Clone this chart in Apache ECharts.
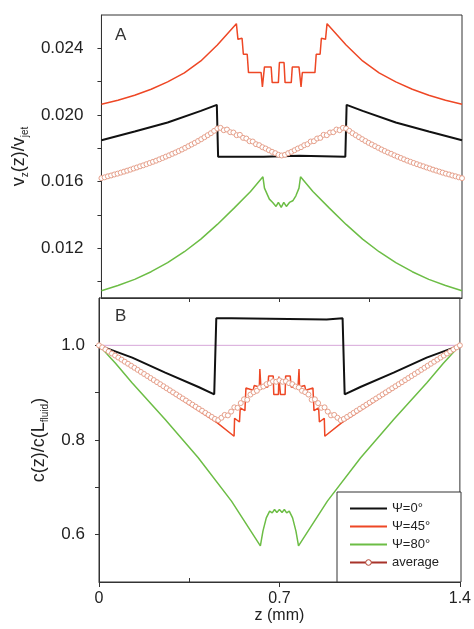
<!DOCTYPE html>
<html>
<head>
<meta charset="utf-8">
<script src="https://cdn.jsdelivr.net/npm/echarts@6/dist/echarts.min.js"></script>
<style>
  html, body { margin: 0; padding: 0; background: #fff; }
  #chart { width: 474px; height: 629px; }
</style>
</head>
<body>
<div id="chart"></div>
<script>
  // 数据
  const names = ['Ψ=0°', 'Ψ=45°', 'Ψ=80°', 'average']

  // A: v_z(z)/v_jet
  const blackTop = [[0, 0.01848], [0.129, 0.0190], [0.257, 0.01954], [0.386, 0.02024], [0.448, 0.0206], [0.453, 0.01748],
    [0.63, 0.01748], [0.632, 0.01754], [0.768, 0.01754], [0.77, 0.01748], [0.947, 0.01748], [0.952, 0.0206],
    [1.014, 0.02024], [1.143, 0.01954], [1.271, 0.0190], [1.4, 0.01848]]
  const redTop = [[0, 0.02064], [0.064, 0.02088], [0.129, 0.02118], [0.193, 0.02154], [0.257, 0.02198], [0.322, 0.02252],
    [0.386, 0.02324], [0.45, 0.0242], [0.524, 0.02548], [0.530, 0.02454], [0.546, 0.0246], [0.551, 0.02364],
    [0.566, 0.02364], [0.571, 0.02254], [0.620, 0.02254], [0.625, 0.02168], [0.633, 0.02288], [0.659, 0.02288],
    [0.663, 0.02194], [0.687, 0.02194], [0.691, 0.02314], [0.709, 0.02314], [0.713, 0.02194], [0.737, 0.02194],
    [0.741, 0.02288], [0.767, 0.02288], [0.775, 0.02168], [0.780, 0.02254], [0.829, 0.02254], [0.834, 0.02364],
    [0.849, 0.02364], [0.854, 0.0246], [0.870, 0.02454], [0.876, 0.02548], [0.95, 0.0242], [1.014, 0.02324],
    [1.078, 0.02252], [1.143, 0.02198], [1.207, 0.02154], [1.271, 0.02118], [1.336, 0.02088], [1.4, 0.02064]]
  const greenTop = [[0, 0.00944], [0.064, 0.00975], [0.129, 0.01012], [0.193, 0.01058], [0.257, 0.01112], [0.322, 0.01178],
    [0.386, 0.01254], [0.45, 0.01342], [0.515, 0.0144], [0.579, 0.0154], [0.627, 0.01628], [0.633, 0.0156],
    [0.652, 0.01494], [0.665, 0.01474], [0.678, 0.0145], [0.687, 0.01474], [0.698, 0.01444], [0.708, 0.01474],
    [0.718, 0.0145], [0.730, 0.01474], [0.743, 0.01484], [0.755, 0.01514], [0.767, 0.0156], [0.773, 0.01628],
    [0.821, 0.0154], [0.885, 0.0144], [0.95, 0.01342], [1.014, 0.01254], [1.078, 0.01178], [1.143, 0.01112],
    [1.207, 0.01058], [1.271, 0.01012], [1.336, 0.00975], [1.4, 0.00944]]

  // B: c(z)/c(L_fluid)
  const blackBottom = [[0, 1.0], [0.129, 0.974], [0.257, 0.9423], [0.386, 0.912], [0.447, 0.8965], [0.455, 1.0572],
    [0.514, 1.0572], [0.517, 1.0548], [0.883, 1.0548], [0.886, 1.0572], [0.945, 1.0572], [0.953, 0.8965],
    [1.014, 0.912], [1.143, 0.9423], [1.271, 0.974], [1.4, 1.0]]
  const redBottom = [[0, 1.0], [0.2, 0.928], [0.459, 0.836], [0.524, 0.808], [0.526, 0.846], [0.545, 0.838], [0.548, 0.868],
    [0.566, 0.862], [0.570, 0.910], [0.598, 0.905], [0.602, 0.915], [0.622, 0.912], [0.624, 0.950], [0.628, 0.912],
    [0.655, 0.912], [0.658, 0.935], [0.676, 0.935], [0.678, 0.896], [0.696, 0.896], [0.698, 0.934], [0.702, 0.934],
    [0.704, 0.896], [0.722, 0.896], [0.724, 0.935], [0.742, 0.935], [0.745, 0.912], [0.772, 0.912], [0.776, 0.950],
    [0.778, 0.912], [0.798, 0.915], [0.802, 0.905], [0.830, 0.910], [0.834, 0.862], [0.852, 0.868], [0.855, 0.838],
    [0.874, 0.846], [0.876, 0.808], [0.941, 0.836], [1.2, 0.928], [1.4, 1.0]]
  const greenBottom = [[0, 1.0], [0.064, 0.962], [0.128, 0.921], [0.256, 0.8436], [0.385, 0.7625], [0.514, 0.6708],
    [0.626, 0.5765], [0.636, 0.6074], [0.649, 0.6356], [0.662, 0.6497], [0.672, 0.646], [0.681, 0.6532], [0.690, 0.647],
    [0.700, 0.653], [0.710, 0.647], [0.719, 0.6532], [0.728, 0.646], [0.738, 0.6497], [0.751, 0.6356], [0.764, 0.6074],
    [0.774, 0.5765], [0.886, 0.6708], [1.015, 0.7625], [1.144, 0.8436], [1.272, 0.921], [1.336, 0.962], [1.4, 1.0]]

  // average（圆圈）
  const zAvg = [0, 0.0125, 0.025, 0.0375, 0.05, 0.0625, 0.075, 0.0875, 0.1, 0.1125,
    0.125, 0.1375, 0.15, 0.1625, 0.175, 0.1875, 0.2, 0.2125, 0.225, 0.2375,
    0.25, 0.2625, 0.275, 0.2875, 0.3, 0.3125, 0.325, 0.3375, 0.35, 0.3625,
    0.375, 0.3875, 0.4, 0.4125, 0.425, 0.4375, 0.45, 0.4625, 0.475, 0.4875,
    0.5, 0.5125, 0.525, 0.5375, 0.55, 0.5625, 0.575, 0.5875, 0.6, 0.6125,
    0.625, 0.6375, 0.65, 0.6625, 0.675, 0.6875, 0.7, 0.7125, 0.725, 0.7375,
    0.75, 0.7625, 0.775, 0.7875, 0.8, 0.8125, 0.825, 0.8375, 0.85, 0.8625,
    0.875, 0.8875, 0.9, 0.9125, 0.925, 0.9375, 0.95, 0.9625, 0.975, 0.9875,
    1.0, 1.0125, 1.025, 1.0375, 1.05, 1.0625, 1.075, 1.0875, 1.1, 1.1125,
    1.125, 1.1375, 1.15, 1.1625, 1.175, 1.1875, 1.2, 1.2125, 1.225, 1.2375,
    1.25, 1.2625, 1.275, 1.2875, 1.3, 1.3125, 1.325, 1.3375, 1.35, 1.3625,
    1.375, 1.3875, 1.4]
  const avgTop = [0.0162, 0.01625, 0.01631, 0.01636, 0.01642, 0.01647, 0.01653, 0.01659, 0.01665, 0.01671,
    0.01678, 0.01684, 0.01691, 0.01697, 0.01704, 0.01711, 0.01718, 0.01725, 0.01733, 0.01741,
    0.01749, 0.01757, 0.01766, 0.01774, 0.01783, 0.01792, 0.01802, 0.01812, 0.01822, 0.01832,
    0.01843, 0.01854, 0.01866, 0.01878, 0.0189, 0.01904, 0.01918, 0.01922, 0.01908, 0.01912,
    0.01896, 0.01894, 0.01878, 0.0188, 0.01862, 0.01858, 0.01842, 0.0184, 0.01824, 0.01818,
    0.01806, 0.01798, 0.01788, 0.01778, 0.0177, 0.0176, 0.01756,
    0.0176, 0.0177, 0.01778, 0.01788, 0.01798, 0.01806, 0.01818, 0.01824, 0.0184, 0.01842,
    0.01858, 0.01862, 0.0188, 0.01878, 0.01894, 0.01896, 0.01912, 0.01908, 0.01922, 0.01918,
    0.01904, 0.0189, 0.01878, 0.01866, 0.01854, 0.01843, 0.01832, 0.01822, 0.01812, 0.01802,
    0.01792, 0.01783, 0.01774, 0.01766, 0.01757, 0.01749, 0.01741, 0.01733, 0.01725, 0.01718,
    0.01711, 0.01704, 0.01697, 0.01691, 0.01684, 0.01678, 0.01671, 0.01665, 0.01659, 0.01653,
    0.01647, 0.01642, 0.01636, 0.01631, 0.01625, 0.0162]
  const avgBottom = [1.0, 0.9957, 0.9914, 0.987, 0.9827, 0.9784, 0.9741, 0.9698, 0.9654, 0.9611,
    0.9568, 0.9525, 0.9482, 0.9438, 0.9395, 0.9352, 0.9309, 0.9266, 0.9222, 0.9179,
    0.9136, 0.9093, 0.905, 0.9006, 0.8963, 0.892, 0.8877, 0.8834, 0.879, 0.8747,
    0.8704, 0.8661, 0.8618, 0.8574, 0.8531, 0.8488, 0.8445, 0.842, 0.847, 0.853,
    0.852, 0.86, 0.869, 0.868, 0.878, 0.886, 0.885, 0.896, 0.901, 0.904,
    0.911, 0.913, 0.918, 0.92, 0.924, 0.923, 0.926,
    0.923, 0.924, 0.92, 0.918, 0.913, 0.911, 0.904, 0.901, 0.896, 0.885,
    0.886, 0.878, 0.868, 0.869, 0.86, 0.852, 0.853, 0.847, 0.842, 0.8445,
    0.8488, 0.8531, 0.8574, 0.8618, 0.8661, 0.8704, 0.8747, 0.879, 0.8834, 0.8877,
    0.892, 0.8963, 0.9006, 0.905, 0.9093, 0.9136, 0.9179, 0.9222, 0.9266, 0.9309,
    0.9352, 0.9395, 0.9438, 0.9482, 0.9525, 0.9568, 0.9611, 0.9654, 0.9698, 0.9741,
    0.9784, 0.9827, 0.987, 0.9914, 0.9957, 1.0]

  const refLine = [[0, 1.0], [1.4, 1.0]]

  // 刻度
  const xTicks = [0, 0.7, 1.4]
  const xMinorTicks = [0.35, 1.05]
  const yTopLabels = [0.012, 0.016, 0.020, 0.024]
  const yTopTicks = [0.010, 0.012, 0.014, 0.016, 0.018, 0.020, 0.022, 0.024]
  const yBottomLabels = [0.6, 0.8, 1.0]
  const yBottomTicks = [0.6, 0.7, 0.8, 0.9, 1.0]

  const colors = ['#111111', '#ee4725', '#6cbd45', '#e6a08b']
  const font = 'Liberation Sans, Arial, Helvetica, sans-serif'
  const axisColor = '#333'

  const chart = echarts.init(document.getElementById('chart'))

  const lineSeries = (name, data, x, y, color, width) => ({
    name, type: 'line', data, xAxisIndex: x, yAxisIndex: y,
    symbol: 'none', lineStyle: { color, width }, itemStyle: { color }, z: 2
  })
  const avgSeries = (vals, x, y) => ({
    name: 'average', type: 'line', xAxisIndex: x, yAxisIndex: y,
    data: zAvg.map((z, i) => [z, vals[i]]),
    symbol: 'circle', symbolSize: 5, showAllSymbol: true,
    lineStyle: { color: colors[3], width: 1, opacity: 0 },
    itemStyle: { color: '#fff', borderColor: colors[3], borderWidth: 1 },
    z: 3
  })

  const option = {
    animation: false,
    backgroundColor: '#fff',
    textStyle: { fontFamily: font },
    grid: [
      { left: 99, right: 12, top: 15, height: 283, show: true, borderColor: axisColor, borderWidth: 1 },
      { left: 99, right: 12, top: 298, bottom: 47, show: true, borderColor: axisColor, borderWidth: 1 }
    ],
    xAxis: [
      { gridIndex: 0, type: 'value', min: 0, max: 1.4, axisLine: { lineStyle: { color: axisColor } },
        axisTick: { show: false }, axisLabel: { show: false }, splitLine: { show: false } },
      { gridIndex: 1, type: 'value', min: 0, max: 1.4, position: 'bottom',
        axisLine: { lineStyle: { color: axisColor } },
        axisTick: { customValues: xTicks, length: 5, lineStyle: { color: axisColor } },
        axisLabel: { customValues: xTicks, fontSize: 16, color: '#222', margin: 9,
          formatter: (v) => (v === 0 ? '0' : String(v)) },
        splitLine: { show: false },
        name: 'z (mm)', nameLocation: 'middle', nameGap: 24,
        nameTextStyle: { fontSize: 16, color: '#222' } },
      { gridIndex: 1, type: 'value', min: 0, max: 1.4, position: 'top',
        axisLine: { show: false },
        axisTick: { customValues: [0.35, 0.7, 1.05], inside: true, length: 4, lineStyle: { color: axisColor } },
        axisLabel: { show: false }, splitLine: { show: false } },
      { gridIndex: 1, type: 'value', min: 0, max: 1.4, position: 'bottom',
        axisLine: { show: false },
        axisTick: { customValues: xMinorTicks, inside: true, length: 4, lineStyle: { color: axisColor } },
        axisLabel: { show: false }, splitLine: { show: false } }
    ],
    yAxis: [
      { gridIndex: 0, type: 'value', min: 0.009, max: 0.026,
        axisLine: { show: true, lineStyle: { color: axisColor } },
        axisTick: { customValues: yTopTicks, length: 4, lineStyle: { color: axisColor } },
        axisLabel: { customValues: yTopLabels, fontSize: 17, color: '#222', margin: 18,
          formatter: (v) => v.toFixed(3) },
        splitLine: { show: false },
        name: 'v{s|z}(z)/v{s|jet}', nameLocation: 'middle', nameRotate: 90, nameGap: 70,
        nameTextStyle: { fontSize: 18, color: '#222', lineHeight: 22,
          rich: { s: { fontSize: 10, lineHeight: 22, verticalAlign: 'bottom', color: '#222' } } } },
      { gridIndex: 1, type: 'value', min: 0.5, max: 1.1,
        axisLine: { show: true, lineStyle: { color: axisColor } },
        axisTick: { customValues: yBottomTicks, length: 4, lineStyle: { color: axisColor } },
        axisLabel: { customValues: yBottomLabels, fontSize: 17, color: '#222', margin: 14,
          formatter: (v) => v.toFixed(1) },
        splitLine: { show: false },
        name: 'c(z)/c(L{s|fluid})', nameLocation: 'middle', nameRotate: 90, nameGap: 47,
        nameTextStyle: { fontSize: 18, color: '#222', lineHeight: 22,
          rich: { s: { fontSize: 10, lineHeight: 22, verticalAlign: 'bottom', color: '#222' } } } }
    ],
    legend: {
      orient: 'vertical', left: 349, top: 502, padding: 0,
      itemWidth: 37, itemHeight: 7, itemGap: 5, z: 10,
      textStyle: { fontSize: 13, color: '#222' },
      data: [
        { name: names[0], itemStyle: { opacity: 0 } },
        { name: names[1], itemStyle: { opacity: 0 } },
        { name: names[2], itemStyle: { opacity: 0 } },
        { name: names[3], itemStyle: { color: '#fff', borderColor: '#b0402e', borderWidth: 1 },
          lineStyle: { color: '#a8332a', width: 2, opacity: 1 } }
      ]
    },
    graphic: [
      { type: 'rect', z: 5, shape: { x: 337, y: 492, width: 124, height: 90 },
        style: { fill: '#fff', stroke: axisColor, lineWidth: 1 } },
      { type: 'text', left: 115, top: 27, z: 5, style: { text: 'A', fontSize: 17, fill: '#333', fontFamily: font } },
      { type: 'text', left: 115, top: 308, z: 5, style: { text: 'B', fontSize: 17, fill: '#333', fontFamily: font } }
    ],
    series: [
      lineSeries(names[0], blackTop, 0, 0, colors[0], 2),
      lineSeries(names[1], redTop, 0, 0, colors[1], 1.5),
      lineSeries(names[2], greenTop, 0, 0, colors[2], 1.5),
      avgSeries(avgTop, 0, 0),
      { name: 'ref', type: 'line', data: refLine, xAxisIndex: 1, yAxisIndex: 1, symbol: 'none',
        lineStyle: { color: '#d7a6d9', width: 1 }, z: 1 },
      lineSeries(names[0], blackBottom, 1, 1, colors[0], 2),
      lineSeries(names[1], redBottom, 1, 1, colors[1], 1.5),
      lineSeries(names[2], greenBottom, 1, 1, colors[2], 1.5),
      avgSeries(avgBottom, 1, 1)
    ]
  }

  chart.setOption(option)
</script>
</body>
</html>
